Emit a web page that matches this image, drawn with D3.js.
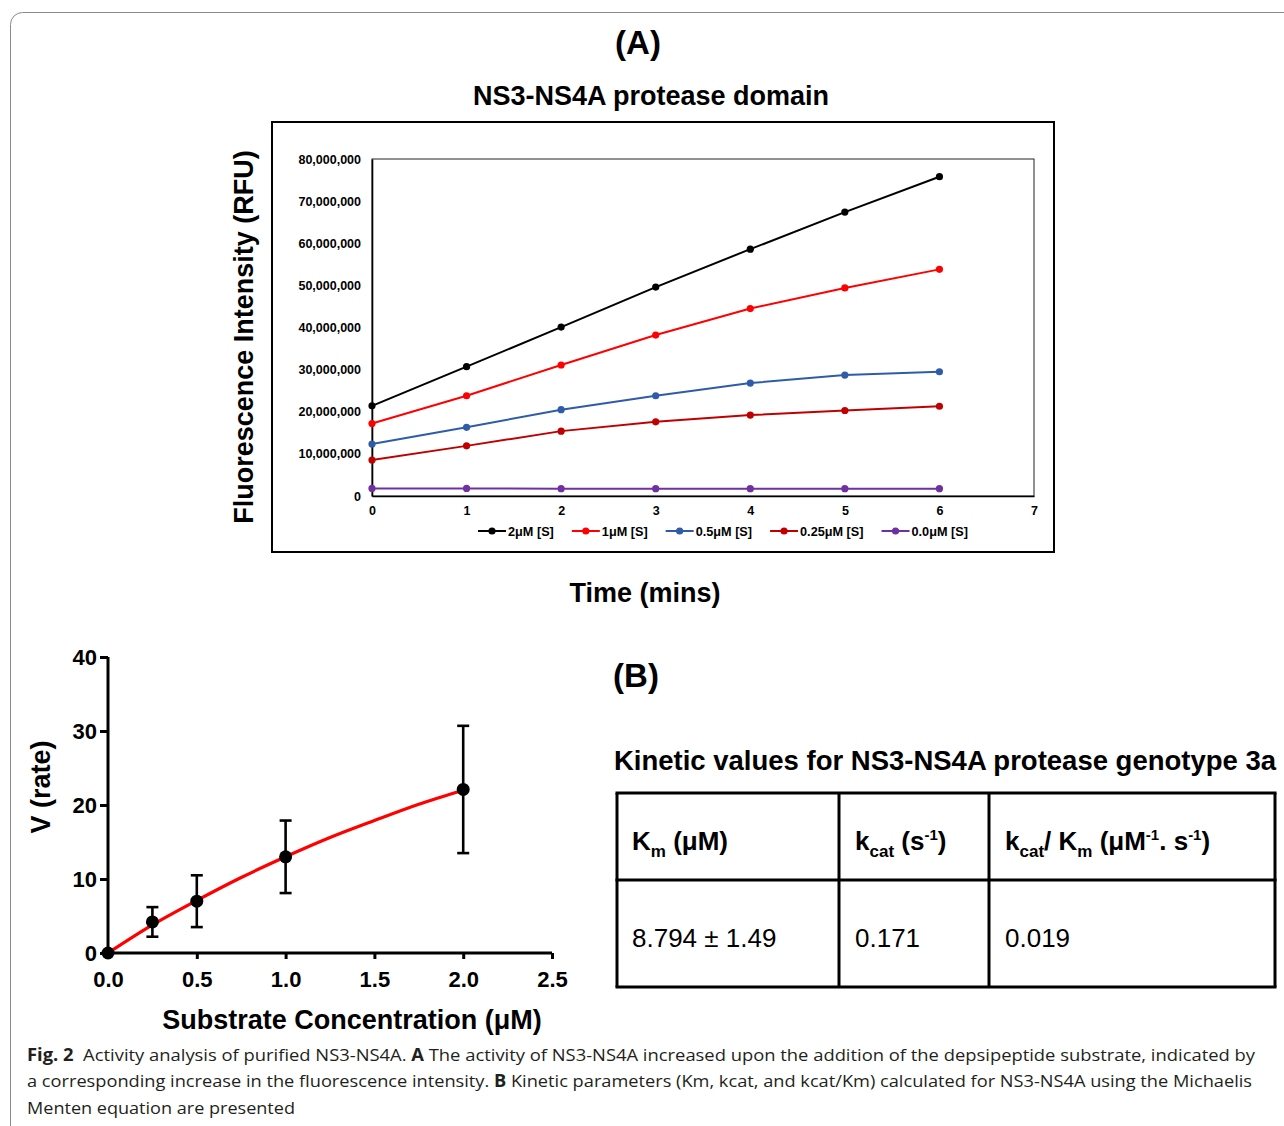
<!DOCTYPE html>
<html>
<head>
<meta charset="utf-8">
<script src="https://cdn.jsdelivr.net/npm/d3@7"></script>
<style>
  body { margin: 0; background: #fff; }
  svg { display: block; }
</style>
</head>
<body>
<div id="container"></div>
<script>
// ---- panel A data ----
const times = [0, 1, 2, 3, 4, 5, 6];
const seriesNames = ["2μM [S]", "1μM [S]", "0.5μM [S]", "0.25μM [S]", "0.0μM [S]"];
const rfu2uM   = [21.4e6, 30.7e6, 40.1e6, 49.6e6, 58.6e6, 67.4e6, 75.8e6];
const rfu1uM   = [17.2e6, 23.8e6, 31.1e6, 38.2e6, 44.5e6, 49.4e6, 53.8e6];
const rfu05uM  = [12.35e6, 16.3e6, 20.5e6, 23.8e6, 26.8e6, 28.7e6, 29.5e6];
const rfu025uM = [8.55e6, 11.9e6, 15.4e6, 17.6e6, 19.2e6, 20.3e6, 21.3e6];
const rfu0uM   = [1.8e6, 1.8e6, 1.75e6, 1.75e6, 1.75e6, 1.75e6, 1.75e6];
const yTicksA = [0, 10e6, 20e6, 30e6, 40e6, 50e6, 60e6, 70e6, 80e6];
const xTicksA = [0, 1, 2, 3, 4, 5, 6, 7];

// ---- panel B data ----
const substrate = [0, 0.25, 0.5, 1.0, 2.0];
const rate = [0, 4.2, 7.0, 13.0, 22.1];
const rateErr = [0, 2.0, 3.5, 4.9, 8.6];
const fitS = [0, 0.25, 0.5, 0.75, 1.0, 1.25, 1.5, 1.75, 2.0];
const fitV = [0, 3.8, 7.1, 10.2, 13.0, 15.6, 17.9, 20.1, 22.0];
const yTicksB = [0, 10, 20, 30, 40];
const xTicksB = [0, 0.5, 1.0, 1.5, 2.0, 2.5];
const tableValues = ["8.794 ± 1.49", "0.171", "0.019"];

const lineColors = ["#000000", "#ff0000", "#2e5ca8", "#c00000", "#7030a0"];
const boldFont = "'Liberation Sans', Arial, sans-serif";

const W = 1284, H = 1126;
const svg = d3.select("#container").append("svg")
    .attr("width", W)
    .attr("height", H)
    .style("font-family", boldFont);

// outer rounded frame
svg.append("rect")
    .attr("x", 10.5).attr("y", 12.5)
    .attr("width", 1300).attr("height", 1140)
    .attr("rx", 12)
    .attr("fill", "none")
    .attr("stroke", "#8a8a8a")
    .attr("stroke-width", 1);

// ================= Panel A =================
svg.append("text").attr("x", 638).attr("y", 54)
    .attr("text-anchor", "middle").attr("font-weight", "bold").attr("font-size", 33)
    .text("(A)");
svg.append("text").attr("x", 651).attr("y", 105)
    .attr("text-anchor", "middle").attr("font-weight", "bold").attr("font-size", 27)
    .text("NS3-NS4A protease domain");

svg.append("rect")
    .attr("x", 272).attr("y", 122).attr("width", 782).attr("height", 430)
    .attr("fill", "none").attr("stroke", "#000").attr("stroke-width", 2);

const xA = d3.scaleLinear().domain([0, 7]).range([372, 1034]);
const yA = d3.scaleLinear().domain([0, 80e6]).range([496, 159]);

svg.append("rect")
    .attr("x", xA(0)).attr("y", yA(80e6))
    .attr("width", xA(7) - xA(0)).attr("height", yA(0) - yA(80e6))
    .attr("fill", "none").attr("stroke", "#222").attr("stroke-width", 1);

const axA_y = svg.append("g")
    .attr("transform", `translate(${xA(0)},0)`)
    .call(d3.axisLeft(yA).tickValues(yTicksA).tickSize(0).tickPadding(11)
        .tickFormat(d3.format(",")));
const axA_x = svg.append("g")
    .attr("transform", `translate(0,${yA(0)})`)
    .call(d3.axisBottom(xA).tickValues(xTicksA).tickSize(0).tickPadding(10)
        .tickFormat(d3.format("d")));
[axA_y, axA_x].forEach(g => {
    g.select(".domain").attr("stroke", "#000").attr("stroke-width", 1.6);
    g.selectAll("text").attr("font-size", 12.5).attr("font-weight", "bold")
        .attr("font-family", boldFont).attr("fill", "#000");
});

const seriesA = [rfu2uM, rfu1uM, rfu05uM, rfu025uM, rfu0uM];
const lineA = d3.line().x((d, i) => xA(times[i])).y(d => yA(d));

seriesA.forEach((vals, k) => {
    svg.append("path")
        .datum(vals)
        .attr("d", lineA)
        .attr("fill", "none")
        .attr("stroke", lineColors[k])
        .attr("stroke-width", 2);
    svg.append("g").selectAll("circle")
        .data(vals).join("circle")
        .attr("cx", (d, i) => xA(times[i]))
        .attr("cy", d => yA(d))
        .attr("r", 3.6)
        .attr("fill", lineColors[k]);
});

svg.append("text")
    .attr("transform", `translate(253,337) rotate(-90)`)
    .attr("text-anchor", "middle").attr("font-weight", "bold").attr("font-size", 27)
    .text("Fluorescence Intensity (RFU)");
svg.append("text").attr("x", 645).attr("y", 602)
    .attr("text-anchor", "middle").attr("font-weight", "bold").attr("font-size", 27)
    .text("Time (mins)");

// legend
let lx = 478;
const ly = 531;
seriesNames.forEach((name, k) => {
    const g = svg.append("g");
    g.append("line").attr("x1", lx).attr("x2", lx + 28).attr("y1", ly).attr("y2", ly)
        .attr("stroke", lineColors[k]).attr("stroke-width", 2);
    g.append("circle").attr("cx", lx + 14).attr("cy", ly).attr("r", 3.6).attr("fill", lineColors[k]);
    const t = g.append("text").attr("x", lx + 30).attr("y", ly + 4.5)
        .attr("font-size", 12.7).attr("font-weight", "bold")
        .text(name);
    lx += 30 + t.node().getComputedTextLength() + 18;
});

// ================= Panel B chart =================
const xB = d3.scaleLinear().domain([0, 2.5]).range([108, 552]);
const yB = d3.scaleLinear().domain([0, 40]).range([953, 657]);

const axB_y = svg.append("g")
    .attr("transform", `translate(${xB(0)},0)`)
    .call(d3.axisLeft(yB).tickValues(yTicksB).tickSize(8).tickPadding(3));
const axB_x = svg.append("g")
    .attr("transform", `translate(0,${yB(0)})`)
    .call(d3.axisBottom(xB).tickValues(xTicksB).tickSize(6).tickPadding(12)
        .tickFormat(d3.format(".1f")));
[axB_y, axB_x].forEach(g => {
    g.select(".domain").attr("stroke", "#000").attr("stroke-width", 3);
    g.selectAll(".tick line").attr("stroke", "#000").attr("stroke-width", 3);
    g.selectAll("text").attr("font-size", 22).attr("font-weight", "bold")
        .attr("font-family", boldFont).attr("fill", "#000");
});
axB_x.select(".domain").attr("d", `M${xB(0)},0H${xB(2.5)}`);
axB_y.select(".domain").attr("d", `M0,${yB(0)}V${yB(40)}`);

// fitted curve
svg.append("path")
    .datum(fitS.map((s, i) => [s, fitV[i]]))
    .attr("d", d3.line().x(d => xB(d[0])).y(d => yB(d[1])).curve(d3.curveMonotoneX))
    .attr("fill", "none")
    .attr("stroke", "#ff0000")
    .attr("stroke-width", 3.2);

// error bars
const errG = svg.append("g").attr("stroke", "#000").attr("stroke-width", 2.6);
substrate.forEach((s, i) => {
    if (rateErr[i] <= 0) return;
    const cx = xB(s), top = yB(rate[i] + rateErr[i]), bot = yB(rate[i] - rateErr[i]);
    errG.append("line").attr("x1", cx).attr("x2", cx).attr("y1", top).attr("y2", bot);
    errG.append("line").attr("x1", cx - 6).attr("x2", cx + 6).attr("y1", top).attr("y2", top);
    errG.append("line").attr("x1", cx - 6).attr("x2", cx + 6).attr("y1", bot).attr("y2", bot);
});
svg.append("g").selectAll("circle")
    .data(substrate).join("circle")
    .attr("cx", d => xB(d))
    .attr("cy", (d, i) => yB(rate[i]))
    .attr("r", 6.5)
    .attr("fill", "#000");

svg.append("text")
    .attr("transform", `translate(50,787) rotate(-90)`)
    .attr("text-anchor", "middle").attr("font-weight", "bold").attr("font-size", 27)
    .text("V (rate)");
svg.append("text").attr("x", 352).attr("y", 1029)
    .attr("text-anchor", "middle").attr("font-weight", "bold").attr("font-size", 27)
    .text("Substrate Concentration (μM)");

// ================= Panel B table =================
svg.append("text").attr("x", 636).attr("y", 687)
    .attr("text-anchor", "middle").attr("font-weight", "bold").attr("font-size", 33)
    .text("(B)");
svg.append("text").attr("x", 614).attr("y", 770)
    .attr("font-weight", "bold").attr("font-size", 27)
    .attr("textLength", 662).attr("lengthAdjust", "spacingAndGlyphs")
    .text("Kinetic values for NS3-NS4A protease genotype 3a");

const colX = [617, 839, 989, 1275];
const rowY = [793, 880, 987];
const tbl = svg.append("g").attr("stroke", "#000").attr("stroke-width", 3);
rowY.forEach(y => tbl.append("line").attr("x1", colX[0] - 1.5).attr("x2", colX[3] + 1.5).attr("y1", y).attr("y2", y));
colX.forEach(x => tbl.append("line").attr("x1", x).attr("x2", x).attr("y1", rowY[0]).attr("y2", rowY[2]));

const textX = [632, 855, 1005];
// header cells with sub/superscripts
const h1 = svg.append("text").attr("x", textX[0]).attr("y", 850).attr("font-weight", "bold").attr("font-size", 26);
h1.append("tspan").text("K");
h1.append("tspan").attr("dy", 7).attr("font-size", 17).text("m");
h1.append("tspan").attr("dy", -7).text(" (μM)");

const h2 = svg.append("text").attr("x", textX[1]).attr("y", 850).attr("font-weight", "bold").attr("font-size", 26);
h2.append("tspan").text("k");
h2.append("tspan").attr("dy", 7).attr("font-size", 17).text("cat");
h2.append("tspan").attr("dy", -7).text(" (s");
h2.append("tspan").attr("dy", -10).attr("font-size", 15).text("-1");
h2.append("tspan").attr("dy", 10).text(")");

const h3 = svg.append("text").attr("x", textX[2]).attr("y", 850).attr("font-weight", "bold").attr("font-size", 26);
h3.append("tspan").text("k");
h3.append("tspan").attr("dy", 7).attr("font-size", 17).text("cat");
h3.append("tspan").attr("dy", -7).text("/ K");
h3.append("tspan").attr("dy", 7).attr("font-size", 17).text("m");
h3.append("tspan").attr("dy", -7).text(" (μM");
h3.append("tspan").attr("dy", -10).attr("font-size", 15).text("-1");
h3.append("tspan").attr("dy", 10).text(". s");
h3.append("tspan").attr("dy", -10).attr("font-size", 15).text("-1");
h3.append("tspan").attr("dy", 10).text(")");

svg.append("g").selectAll("text")
    .data(tableValues).join("text")
    .attr("x", (d, i) => textX[i])
    .attr("y", 947)
    .attr("font-size", 26)
    .text(d => d);

// ================= Caption =================
const capFont = "'Open Sans', 'Noto Sans', sans-serif";
const capLines = [
    [["Fig. 2", true], ["  Activity analysis of purified NS3-NS4A. ", false], ["A", true],
     [" The activity of NS3-NS4A increased upon the addition of the depsipeptide substrate, indicated by", false]],
    [["a corresponding increase in the fluorescence intensity. ", false], ["B", true],
     [" Kinetic parameters (Km, kcat, and kcat/Km) calculated for NS3-NS4A using the Michaelis", false]],
    [["Menten equation are presented", false]]
];
const capY = [1061, 1087, 1114];
const capEnd = [1255, 1252, 295];
capLines.forEach((parts, li) => {
    const t = svg.append("text").attr("x", 27).attr("y", capY[li])
        .attr("font-family", capFont).attr("font-size", 17).attr("fill", "#231f20")
        .attr("xml:space", "preserve").style("white-space", "pre");
    parts.forEach(([s, b]) => t.append("tspan").attr("font-weight", b ? "bold" : "normal").text(s));
    t.attr("textLength", capEnd[li] - 27).attr("lengthAdjust", "spacingAndGlyphs");
});
</script>
</body>
</html>
